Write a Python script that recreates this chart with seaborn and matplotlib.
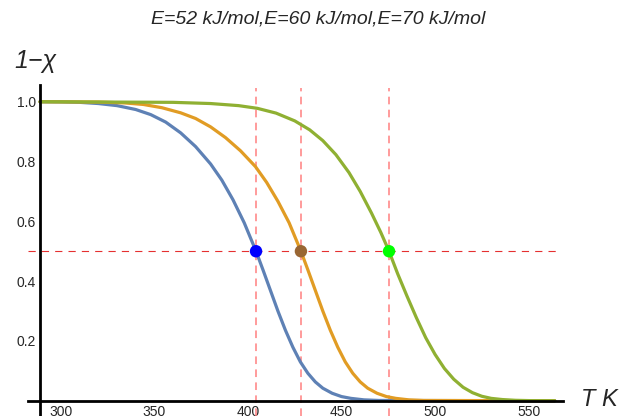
import numpy as np
import pandas as pd
import matplotlib
matplotlib.use("Agg")
import matplotlib.pyplot as plt
import seaborn as sns
from matplotlib.ticker import MultipleLocator

# ---- data ----
labels = ["E=52 kJ/mol", "E=60 kJ/mol", "E=70 kJ/mol"]

T_blue = [288.8, 300, 310, 320, 330, 340, 348, 356, 364, 372, 380, 386, 392, 398,
          404.3, 408, 412, 416, 420, 424, 428, 432, 436, 440, 445, 450, 455, 462, 470, 564]
v_blue = [1.0, 0.9995, 0.998, 0.994, 0.987, 0.974, 0.957, 0.932, 0.896, 0.850, 0.792,
          0.738, 0.672, 0.595, 0.5, 0.438, 0.369, 0.300, 0.236, 0.179, 0.130, 0.092,
          0.063, 0.042, 0.025, 0.014, 0.008, 0.003, 0.001, 0.0]

T_orange = [288.8, 320, 334, 344, 354, 364, 372, 380, 388, 396, 404, 410, 416, 422,
            428.3, 432, 436, 440, 444, 448, 452, 456, 460, 464, 469, 474, 479, 486, 494, 564]
v_orange = [1.0, 0.999, 0.996, 0.991, 0.980, 0.963, 0.944, 0.916, 0.880, 0.836, 0.783,
            0.730, 0.667, 0.595, 0.5, 0.438, 0.369, 0.300, 0.236, 0.179, 0.130, 0.092,
            0.063, 0.042, 0.025, 0.014, 0.008, 0.003, 0.001, 0.0]

T_green = [288.8, 360, 380, 395, 405, 415, 425, 433, 440, 447, 454, 460, 466, 471,
           475.4, 480, 485, 490, 495, 500, 505, 510, 515, 520, 525, 530, 536, 543, 552, 564]
v_green = [1.0, 0.998, 0.994, 0.987, 0.978, 0.962, 0.936, 0.906, 0.870, 0.823, 0.763,
           0.700, 0.628, 0.563, 0.5, 0.425, 0.350, 0.278, 0.211, 0.155, 0.108, 0.072,
           0.045, 0.027, 0.015, 0.008, 0.004, 0.0015, 0.0003, 0.0]

half_T = [404.3, 428.3, 475.4]
half_v = [0.5, 0.5, 0.5]

x_ticks = [300, 350, 400, 450, 500, 550]
y_ticks = [0.2, 0.4, 0.6, 0.8, 1.0]

line_colors = ["#5E81B5", "#E19C24", "#8FB032"]
point_colors = ["#0000FF", "#996633", "#00FF00"]

df = pd.concat([
    pd.DataFrame({"T": T_blue, "v": v_blue, "E": labels[0]}),
    pd.DataFrame({"T": T_orange, "v": v_orange, "E": labels[1]}),
    pd.DataFrame({"T": T_green, "v": v_green, "E": labels[2]}),
], ignore_index=True)
pts = pd.DataFrame({"T": half_T, "v": half_v, "E": labels})

sns.set_style("white")
plt.rcParams["font.family"] = ["Liberation Sans", "DejaVu Sans"]

fig = plt.figure(figsize=(6.22, 4.16), dpi=100)
W, H = 622, 416
ax = fig.add_axes([28 / W, 0, (563 - 28) / W, (416 - 85) / H])
ax.set_xlim(282.4, 568.4)
ax.set_ylim(-0.051, 1.056)

# reference lines
for t in half_T:
    ax.axvline(t, ymin=0, ymax=(1.045 + 0.051) / (1.056 + 0.051),
               color="#ff8080", lw=1.1, linestyle=(0, (5, 3.5)), zorder=1)
ax.hlines(0.5, 282.4, 565.7, color="#e53030", lw=0.8,
          linestyle=(0, (6.5, 5.5)), zorder=1)

sns.lineplot(data=df, x="T", y="v", hue="E", palette=line_colors,
             estimator=None, sort=True, lw=2.3, legend=False, ax=ax, zorder=2)
for ln in ax.lines[-3:]:
    ln.set_solid_joinstyle("round")
    ln.set_solid_capstyle("round")
sns.scatterplot(data=pts, x="T", y="v", hue="E", palette=point_colors,
                s=80, edgecolor="none", legend=False, ax=ax, zorder=3)

# axes styling (Mathematica-like)
for s in ["top", "right"]:
    ax.spines[s].set_visible(False)
ax.spines["left"].set_position(("data", 288.8))
ax.spines["bottom"].set_position(("data", 0))
for s in ["left", "bottom"]:
    ax.spines[s].set_linewidth(2.0)
    ax.spines[s].set_color("black")
ax.set_xticks(x_ticks)
ax.set_xticklabels([str(t) for t in x_ticks])
ax.set_yticks(y_ticks)
ax.set_yticklabels([f"{t:.1f}" for t in y_ticks])
ax.xaxis.set_minor_locator(MultipleLocator(10))
ax.yaxis.set_minor_locator(MultipleLocator(0.05))
ax.tick_params(which="major", direction="in", length=4.5, width=1.6,
               labelsize=10, pad=3, color="black")
ax.tick_params(which="minor", direction="in", length=2.2, width=1.4, color="black")
ax.set_xlabel("")
ax.set_ylabel("")
ax.patch.set_alpha(0)

fig.text(318 / W, 1 - 19 / H, "E=52 kJ/mol,E=60 kJ/mol,E=70 kJ/mol",
         ha="center", va="center", fontsize=14, fontstyle="italic")
fig.text(35 / W, 1 - 61 / H, "1\u2212\u03c7", ha="center", va="center",
         fontsize=18, fontstyle="italic")
fig.text(599 / W, 1 - 400 / H, "T K", ha="center", va="center",
         fontsize=17, fontstyle="italic")

fig.savefig("out.png", dpi=100)
